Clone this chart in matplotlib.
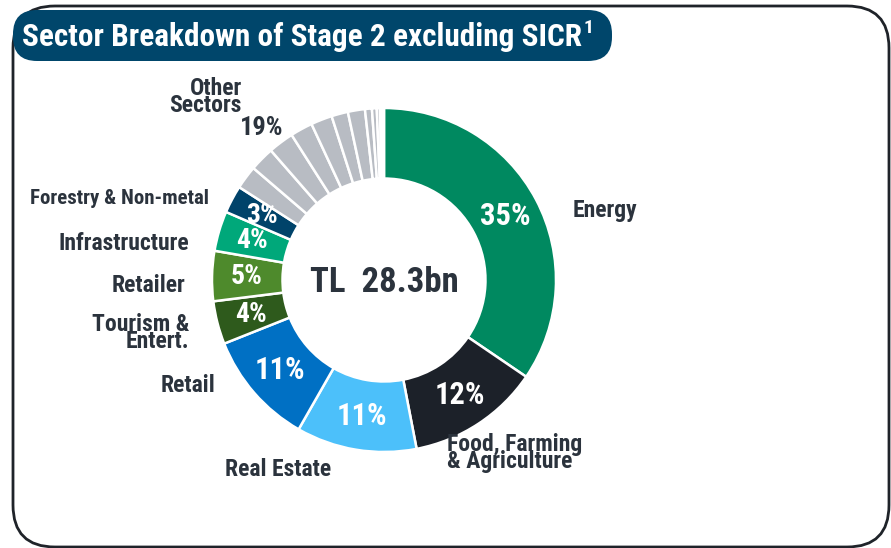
import numpy as np
import matplotlib
matplotlib.use("Agg")
from matplotlib import pyplot as plt
from matplotlib.patches import FancyBboxPatch

plt.rcParams['font.family'] = ['Liberation Sans Narrow', 'Arial Narrow', 'Roboto Condensed',
                               'Archivo Narrow', 'DejaVu Sans']

# data
sectors = ["Energy", "Food, Farming\n& Agriculture", "Real Estate", "Retail",
           "Tourism &\nEntert.", "Retailer", "Infrastructure", "Forestry & Non-metal"]
shares = [34.5, 12.45, 11.3, 10.7, 4.05, 4.7, 3.75, 2.6]
pct_labels = ["35%", "12%", "11%", "11%", "4%", "5%", "4%", "3%"]
colors = ["#008960", "#1c2129", "#4cc0fa", "#0070c4", "#2e5a1c", "#4e8a2c", "#00a87a", "#00436a"]
other_shares = [2.2, 2.3, 2.4, 2.1, 2.0, 1.55, 1.6, 0.65, 0.45, 0.3, 0.17, 0.2]
other_label = "Other\nSectors"
other_pct = "19%"
total_text = "TL  28.3bn"
title = "Sector Breakdown of Stage 2 excluding SICR"
title_sup = "1"

W, H = 891, 548
TXT = "#2b333d"

fig = plt.figure(figsize=(W / 100, H / 100), dpi=100)
ax = fig.add_axes([0, 0, 1, 1])


def Y(y):
    # pixel row -> data y
    return H - y


cx, cy, R = 384, Y(280), 172
vals = shares + other_shares
cols = colors + ["#b8bcc3"] * len(other_shares)
wedges, _ = ax.pie(vals, colors=cols, startangle=90, counterclock=False,
                   center=(cx, cy), radius=R, frame=True,
                   wedgeprops=dict(width=R * 0.41, edgecolor="white", linewidth=1.8))

# percentage labels in the ring
for w, lab in zip(wedges[:len(shares)], pct_labels):
    a = np.deg2rad((w.theta1 + w.theta2) / 2)
    r = R * 0.80
    fs = 22 if len(lab) == 3 else 20
    ax.text(cx + r * np.cos(a), cy + r * np.sin(a), lab, color="white",
            fontsize=fs, fontweight="bold", ha="center", va="center")

ax.text(cx, Y(283), total_text, color=TXT, fontsize=25, fontweight="bold",
        ha="center", va="center")

# outer labels
outer_pos = [(573, 210, "left", 17), (447, 453, "left", 17), (278, 469, "center", 17),
             (215, 386, "right", 17), (189, 333, "right", 17), (185, 285, "right", 17),
             (189, 243, "right", 17), (209, 198, "right", 15)]
for name, (x, y, ha, fs) in zip(sectors, outer_pos):
    ax.text(x, Y(y), name, color=TXT, fontsize=fs, fontweight="bold",
            ha=ha, va="center", linespacing=0.72, multialignment=ha)
ax.text(242, Y(97), other_label, color=TXT, fontsize=17, fontweight="bold",
        ha="right", va="center", linespacing=0.66, multialignment="right")
ax.text(262, Y(128), other_pct, color=TXT, fontsize=19, fontweight="bold",
        ha="center", va="center")

# frame and title box
frame = FancyBboxPatch((13, Y(547)), 876, 541, boxstyle="round,pad=0,rounding_size=42",
                       fc="none", ec="#1f2329", lw=2)
ax.add_patch(frame)
pill = FancyBboxPatch((13, Y(61)), 599, 51, boxstyle="round,pad=0,rounding_size=24",
                      fc="#00466b", ec="none")
ax.add_patch(pill)
t = ax.text(22, Y(37), title, color="white", fontsize=22.5, fontweight="bold",
            ha="left", va="center")
ax.annotate(title_sup, xy=(1, 0.5), xycoords=t, xytext=(1, 0), textcoords="offset points",
            color="white", fontsize=14, fontweight="bold", ha="left", va="bottom")

ax.set_xlim(0, W)
ax.set_ylim(0, H)
ax.set_aspect("auto")
ax.axis("off")

fig.savefig("out.png", dpi=100)
